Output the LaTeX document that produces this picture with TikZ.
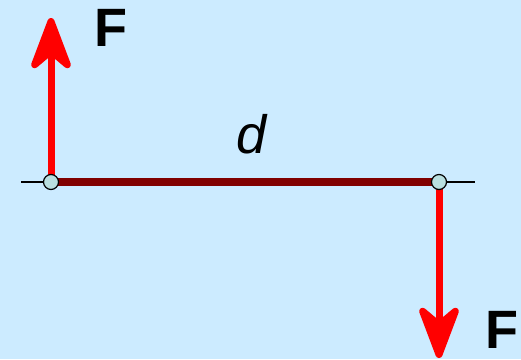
\documentclass[tikz,border=0pt]{standalone}
\usepackage{fontspec}
\setmainfont{Liberation Sans}
\usetikzlibrary{arrows.meta,positioning,backgrounds}
\definecolor{sky}{HTML}{CCEBFF}
\definecolor{rod}{HTML}{800000}
\definecolor{pin}{HTML}{B9DFE0}
\definecolor{force}{HTML}{FF0000}

\begin{document}
\begin{tikzpicture}[x=1pt,y=-1pt,
    force/.style={draw=force,line width=7pt,
                  -{Stealth[length=64pt,width=48pt,inset=20pt,round]}},
    hinge/.style={circle,draw=black,fill=pin,line width=1.2pt,
                  minimum size=15pt,inner sep=0pt},
    lbl/.style={font=\fontsize{54}{54}\selectfont\bfseries,inner sep=0pt}]
  \useasboundingbox (0,0) rectangle (521,359);
  \node[hinge] (L) at (51,182) {};
  \node[hinge] (R) at (439,182) {};
  \coordinate (wl) at (21,182);
  \coordinate (wr) at (475,182);
  \coordinate (tl) at (51,18);
  \coordinate (tr) at (439,358);
  \node[lbl] (fl) at (111,28) {F};
  \node[lbl] (fr) at (502,330) {F};
  \node[font=\fontsize{54}{54}\selectfont\itshape,inner sep=0pt] (d) at (252,134) {d};
  \begin{scope}[on background layer]
    \fill[sky] (0,0) rectangle (521,359);
    \draw[line width=1.3pt] (wl) -- (wr);
    \draw[rod,line width=8pt] (L.center) -- (R.center);
    \draw[force] (L.center) -- (tl);
    \draw[force] (R.center) -- (tr);
  \end{scope}
\end{tikzpicture}
\end{document}
